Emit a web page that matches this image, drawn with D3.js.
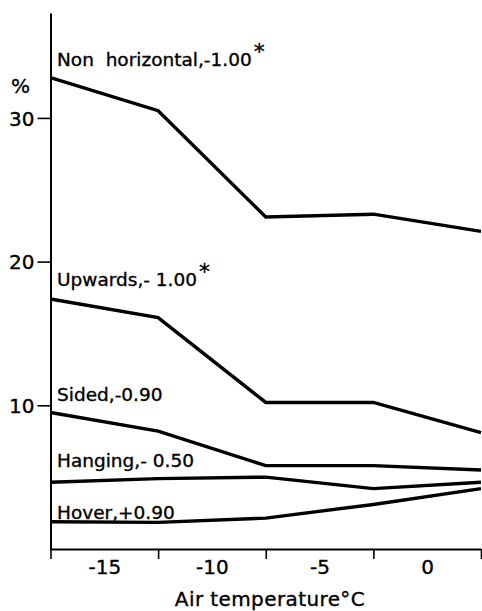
<!DOCTYPE html>
<html>
<head>
<meta charset="utf-8">
<script src="https://cdn.jsdelivr.net/npm/d3@7"></script>
<style>
    body { margin: 0; background: #fff; }
    svg { display: block; }
    text { font-family: "DejaVu Sans", sans-serif; fill: #000; stroke: #000; stroke-width: 0.35px; }
</style>
</head>
<body>
<div id="chart"></div>
<script>
// air temperature classes (°C), points sit on class borders
const temps = [-17.5, -12.5, -7.5, -2.5, 2.5];
const tempLabels = [-15, -10, -5, 0];
const yTicks = [10, 20, 30];

// percentage of observations per posture
const nonHorizontal = [32.8, 30.5, 23.1, 23.3, 22.1];
const upwards = [17.4, 16.1, 10.2, 10.2, 8.1];
const sided = [9.5, 8.2, 5.8, 5.8, 5.5];
const hanging = [4.65, 4.9, 5.0, 4.2, 4.65];
const hover = [1.9, 1.85, 2.15, 3.1, 4.2];

const seriesNames = ['Non  horizontal,-1.00', 'Upwards,- 1.00', 'Sided,-0.90', 'Hanging,- 0.50', 'Hover,+0.90'];
const seriesStars = [true, true, false, false, false];
const labelValues = [33.6, 18.3, 10.3, 5.7, 2.1];

const series = [nonHorizontal, upwards, sided, hanging, hover];

const width = 482, height = 611;

const x = d3.scaleLinear().domain([-17.5, 2.5]).range([50.5, 481]);
const y = d3.scaleLinear().domain([0, 37.3]).range([549, 13]);

const svg = d3.select('#chart')
    .append('svg')
    .attr('width', width)
    .attr('height', height);

// y axis
const yAxis = svg.append('g')
    .attr('transform', `translate(${x(-17.5)},0)`)
    .call(d3.axisLeft(y).tickValues(yTicks).tickSize(13).tickSizeOuter(0).tickPadding(3));
yAxis.select('.domain').attr('stroke-width', 2);
yAxis.selectAll('.tick line').attr('stroke-width', 1.6);
yAxis.selectAll('.tick text').style('font-size', '20px').attr('dy', '0.36em');

svg.append('text')
    .attr('x', 11)
    .attr('y', 93)
    .style('font-size', '20px')
    .text('%');

// x axis: ticks on class borders
const xAxis = svg.append('g')
    .attr('transform', `translate(0,${y(0)})`)
    .call(d3.axisBottom(x).tickValues(temps).tickSize(10).tickSizeOuter(0).tickFormat(''));
xAxis.select('.domain').attr('stroke-width', 2);
xAxis.selectAll('.tick line').attr('stroke-width', 1.6);

// x labels at class centres
const xLabels = svg.append('g')
    .attr('transform', `translate(0,${y(0)})`)
    .call(d3.axisBottom(x).tickValues(tempLabels).tickSize(0).tickPadding(11).tickFormat(d => d === 0 ? '0' : '-' + Math.abs(d)));
xLabels.select('.domain').remove();
xLabels.selectAll('.tick text').style('font-size', '20px');

svg.append('text')
    .attr('x', 270)
    .attr('y', 606)
    .attr('text-anchor', 'middle')
    .style('font-size', '20px')
    .style('letter-spacing', '0.4px')
    .text('Air temperature°C');

// lines
const line = d3.line()
    .x((d, i) => x(temps[i]))
    .y(d => y(d));

svg.selectAll('.series')
    .data(series)
    .enter().append('path')
    .attr('class', 'series')
    .attr('d', line)
    .attr('fill', 'none')
    .attr('stroke', '#000')
    .attr('stroke-width', 3.4)
    .attr('stroke-linejoin', 'miter');

// labels
const labels = svg.selectAll('.label')
    .data(seriesNames)
    .enter().append('text')
    .attr('class', 'label')
    .attr('x', 57)
    .attr('y', (d, i) => y(labelValues[i]))
    .attr('xml:space', 'preserve')
    .style('font-size', '18.5px')
    .text(d => d);

labels.filter((d, i) => seriesStars[i])
    .append('tspan')
    .attr('dx', 2)
    .attr('dy', -7)
    .style('font-size', '22px')
    .text('*');
</script>
</body>
</html>
